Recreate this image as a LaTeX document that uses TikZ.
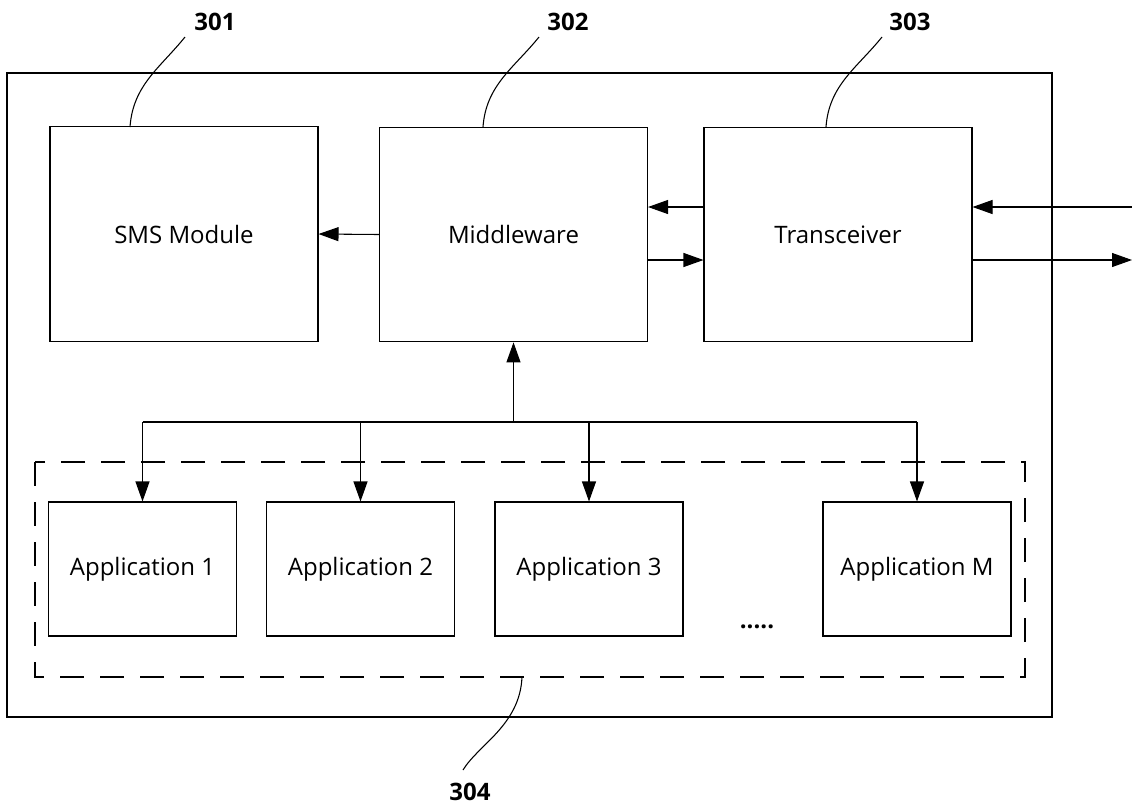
\documentclass[tikz,border=0pt]{standalone}
\usepackage{fontspec}
\setmainfont{Open Sans}
\usetikzlibrary{calc}
\usetikzlibrary{arrows.meta}

\begin{document}
\begin{tikzpicture}[x=.75pt, y=-.75pt, line width=.8pt,
  blk/.style={draw, inner sep=0, minimum width=201pt, minimum height=161pt, font=\fontsize{18}{20}\selectfont},
  appbox/.style={draw, inner sep=0, minimum width=141pt, minimum height=100.5pt, font=\fontsize{18}{20}\selectfont},
  num/.style={font=\fontsize{18}{20}\selectfont\bfseries},
  grp/.style={dash pattern=on 18pt off 12pt},
  >={Triangle[length=15pt, width=10.5pt]}]
\useasboundingbox (0,0) rectangle (1132,808);
\draw (7,73) rectangle (1052,717);
\draw[grp] (35,462) rectangle (1025,677);
% blocks
\node[blk] (sms) at (184,234) {SMS Module};
\node[blk] (mid) at (513.5,234.5) {Middleware};
\node[blk] (trx) at (838,234.5) {Transceiver};
\node[appbox] (app1) at (142.5,569) {Application 1};
\node[appbox] (app2) at (360.5,569) {Application 2};
\node[appbox] (app3) at (589,569) {Application 3};
\node[appbox] (appM) at (917,569) {Application M};
\node[num] (dots) at (757,627) {.....};
% reference numbers
\node[num] (n301) at (215,22) {301};
\node[num] (n302) at (568,22) {302};
\node[num] (n303) at (910,22) {303};
\node[num] (n304) at (470,792) {304};
\draw (130,127) .. controls (133,85) and (160,68) .. (185,37);
\draw (483,127) .. controls (486,85) and (514,68) .. (539,37);
\draw (826,127) .. controls (829,85) and (857,68) .. (882,37);
\draw (522,677) .. controls (520,725) and (478,745) .. (463,770);
% links
\coordinate (rin) at (1132,207);
\coordinate (rout) at (1132,260);
\coordinate (bus) at (513.5,422);
\draw[->] (mid.west) -- (sms.east);
\draw[->] (rin -| trx.west) -- (rin -| mid.east);
\draw[->] (rout -| mid.east) -- (rout -| trx.west);
\draw[->] (rin) -- (rin -| trx.east);
\draw[->] (rout -| trx.east) -- (rout);
\draw[->] (bus) -- (mid.south);
\draw (bus -| app1) -- (bus -| appM);
\foreach \a in {app1,app2,app3,appM} {
 \draw[->] (bus -| \a.north) -- (\a.north);
}
\end{tikzpicture}
\end{document}
